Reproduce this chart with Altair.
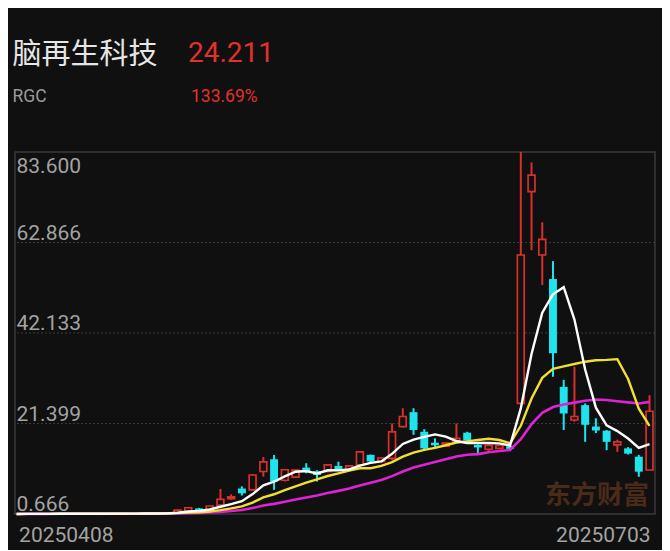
import altair as alt
import pandas as pd

# ---------------- data ----------------
opens = [0.70, 0.68, 0.70, 0.71, 0.72, 0.73, 0.72, 0.74, 0.75, 0.74,
         0.76, 0.78, 0.77, 0.79, 0.82, 0.86, 1.25, 1.95, 1.45, 2.70,
         4.20, 6.50, 6.20, 10.40, 13.20, 8.40, 9.10, 11.30, 10.50, 10.40,
         11.66, 11.00, 11.90, 14.20, 12.70, 13.40, 20.70, 24.00, 19.50, 17.00,
         16.20, 17.20, 19.30, 16.50, 15.50, 15.70, 16.20, 26.00, 74.50, 60.00,
         54.50, 29.80, 22.20, 25.60, 20.70, 19.75, 16.50, 15.70, 13.80, 10.75]
highs = [0.72, 0.72, 0.73, 0.74, 0.75, 0.76, 0.75, 0.77, 0.78, 0.78,
         0.80, 0.82, 0.81, 0.84, 0.90, 1.60, 2.15, 2.05, 2.55, 6.40,
         5.20, 7.00, 9.80, 13.70, 14.20, 11.00, 10.80, 12.30, 10.70, 12.00,
         12.65, 11.80, 15.00, 14.30, 13.70, 21.40, 24.90, 24.90, 20.10, 18.00,
         17.00, 21.40, 19.50, 16.60, 16.60, 16.50, 16.30, 83.60, 81.20, 67.50,
         58.60, 31.40, 34.40, 26.00, 22.60, 19.90, 17.70, 16.00, 14.20, 27.90]
lows = [0.666, 0.67, 0.68, 0.69, 0.70, 0.71, 0.70, 0.72, 0.73, 0.72,
        0.74, 0.76, 0.75, 0.77, 0.80, 0.84, 1.20, 1.40, 1.40, 2.00,
        3.90, 4.90, 6.00, 9.20, 6.20, 8.10, 8.90, 10.00, 8.10, 10.20,
        10.60, 10.90, 11.70, 12.30, 12.50, 13.00, 20.50, 18.80, 15.50, 16.00,
        16.00, 17.00, 17.30, 14.60, 15.00, 15.60, 15.40, 25.80, 61.10, 53.10,
        32.10, 19.90, 21.80, 17.20, 19.20, 15.30, 14.90, 14.30, 9.20, 10.70]
closes = [0.68, 0.70, 0.71, 0.72, 0.73, 0.72, 0.74, 0.75, 0.74, 0.76,
          0.78, 0.77, 0.79, 0.82, 0.86, 1.55, 2.10, 1.45, 2.50, 4.00,
          4.60, 5.40, 9.60, 12.60, 8.10, 10.80, 10.70, 10.40, 9.60, 11.90,
          10.75, 11.70, 14.90, 12.70, 13.50, 19.50, 23.00, 19.90, 15.70, 16.40,
          16.90, 18.00, 17.50, 15.90, 16.40, 16.40, 15.60, 60.00, 78.30, 63.60,
          37.50, 23.70, 23.00, 21.10, 19.80, 17.20, 17.20, 14.50, 10.36, 24.211]

y_tick_values = [83.600, 62.866, 42.133, 21.399, 0.666]
grid_values = [62.866, 42.133, 21.399]
x_label_index = [0, 59]
x_labels = ["20250408", "20250703"]

stock_name = "脑再生科技"
stock_code = "RGC"
last_price = "24.211"
change_pct = "133.69%"
watermark = "东方财富"

# ---------------- style ----------------
BG = "#101010"
RED = "#d9302c"
PRICE_RED = "#e3302b"
CYAN = "#1fe4ee"
WHITE = "#ffffff"
YELLOW = "#f2df33"
MAGENTA = "#de22d6"
GRID = "#3a3a3a"
LABEL = "#a3a3a3"

W, H = 640, 362

df = pd.DataFrame({
    "i": list(range(len(closes))),
    "open": opens, "high": highs, "low": lows, "close": closes,
})

xs = alt.Scale(domain=[-0.15, 59.51], nice=False, zero=False)
ys = alt.Scale(domain=[0.666, 83.6], nice=False, zero=False)

base = alt.Chart(df).transform_calculate(
    top="max(datum.open, datum.close)",
    bot="min(datum.open, datum.close)",
    xl="datum.i - 0.32",
    xr="datum.i + 0.32",
    xlc="datum.i - 0.37",
    xrc="datum.i + 0.37",
)

grid = alt.Chart(pd.DataFrame({"v": grid_values})).mark_rule(
    color=GRID, strokeDash=[2, 2], strokeWidth=1
).encode(y=alt.Y("v:Q", scale=ys, axis=None))

wm = alt.Chart(pd.DataFrame({"t": [watermark]})).mark_text(
    align="left", baseline="alphabetic", font="Noto Sans CJK SC",
    fontWeight="bold", fontSize=26, color="#4a2a18"
).encode(x=alt.value(530), y=alt.value(352), text="t:N")

wick = base.mark_rule(strokeWidth=2).encode(
    x=alt.X("i:Q", scale=xs, axis=None),
    y=alt.Y("low:Q", scale=ys, axis=None),
    y2="high:Q",
    color=alt.condition("datum.close >= datum.open", alt.value(RED), alt.value(CYAN)),
)

up_body = base.transform_filter("datum.close >= datum.open").mark_rect(
    fill=BG, stroke=RED, strokeWidth=1.7
).encode(
    x=alt.X("xl:Q", scale=xs, axis=None), x2="xr:Q",
    y=alt.Y("top:Q", scale=ys, axis=None), y2="bot:Q",
)

dn_body = base.transform_filter("datum.close < datum.open").mark_rect(
    color=CYAN
).encode(
    x=alt.X("xlc:Q", scale=xs, axis=None), x2="xrc:Q",
    y=alt.Y("top:Q", scale=ys, axis=None), y2="bot:Q",
)

ma_base = alt.Chart(df).transform_window(
    ma5="mean(close)", frame=[-4, 0], sort=[alt.SortField("i")]
).transform_window(
    ma10="mean(close)", frame=[-9, 0], sort=[alt.SortField("i")]
).transform_window(
    ma20="mean(close)", frame=[-19, 0], sort=[alt.SortField("i")]
)

ma20 = ma_base.mark_line(color=MAGENTA, strokeWidth=2.6).encode(
    x=alt.X("i:Q", scale=xs, axis=None), y=alt.Y("ma20:Q", scale=ys, axis=None))
ma10 = ma_base.mark_line(color=YELLOW, strokeWidth=2.4).encode(
    x=alt.X("i:Q", scale=xs, axis=None), y=alt.Y("ma10:Q", scale=ys, axis=None))
ma5 = ma_base.mark_line(color=WHITE, strokeWidth=2.4).encode(
    x=alt.X("i:Q", scale=xs, axis=None), y=alt.Y("ma5:Q", scale=ys, axis=None))

ylab_df = pd.DataFrame({"v": y_tick_values})
ylab_top = alt.Chart(ylab_df).transform_filter("datum.v > 80").mark_text(
    align="left", baseline="alphabetic", dy=21, font="Roboto", fontSize=21, color=LABEL
).encode(x=alt.value(1.5), y=alt.Y("v:Q", scale=ys, axis=None), text=alt.Text("v:Q", format=".3f"))
ylab_rest = alt.Chart(ylab_df).transform_filter("datum.v < 80").mark_text(
    align="left", baseline="alphabetic", dy=-3, font="Roboto", fontSize=21, color=LABEL
).encode(x=alt.value(1.5), y=alt.Y("v:Q", scale=ys, axis=None), text=alt.Text("v:Q", format=".3f"))

xlab_df = pd.DataFrame({"i": x_label_index, "t": x_labels})
xlab_l = alt.Chart(xlab_df).transform_filter("datum.i == 0").mark_text(
    align="left", baseline="alphabetic", dx=2.5, font="Roboto", fontSize=21, color=LABEL
).encode(x=alt.X("i:Q", scale=xs, axis=None), y=alt.value(389.5), text="t:N")
xlab_r = alt.Chart(xlab_df).transform_filter("datum.i > 0").mark_text(
    align="right", baseline="alphabetic", dx=1, font="Roboto", fontSize=21, color=LABEL
).encode(x=alt.X("i:Q", scale=xs, axis=None), y=alt.value(389.5), text="t:N")

def label(txt, x, y, size, color, font="Roboto"):
    return alt.Chart(pd.DataFrame({"t": [txt]})).mark_text(
        align="left", baseline="alphabetic", font=font, fontSize=size, color=color
    ).encode(x=alt.value(x), y=alt.value(y), text="t:N")

h_name = label(stock_name, -2.5, -88.5, 29, "#e6e6e6", "Noto Sans CJK SC")
h_price = label(last_price, 173, -89.7, 28, PRICE_RED)
h_code = label(stock_code, -2.5, -50.3, 17.5, "#9a9a9a")
h_pct = label(change_pct, 176, -50.3, 17.5, PRICE_RED)

chart = alt.layer(
    grid, wm, wick, up_body, dn_body, ma20, ma10, ma5,
    ylab_top, ylab_rest, xlab_l, xlab_r, h_name, h_price, h_code, h_pct,
).properties(
    width=W, height=H,
    background=BG,
    autosize=alt.AutoSizeParams(type="none"),
    padding={"left": 7, "top": 144, "right": 7, "bottom": 36},
).configure_view(stroke="#3a3a3a", strokeWidth=1.5)

chart.save("out.html", embed_options={"renderer": "svg", "actions": False})
